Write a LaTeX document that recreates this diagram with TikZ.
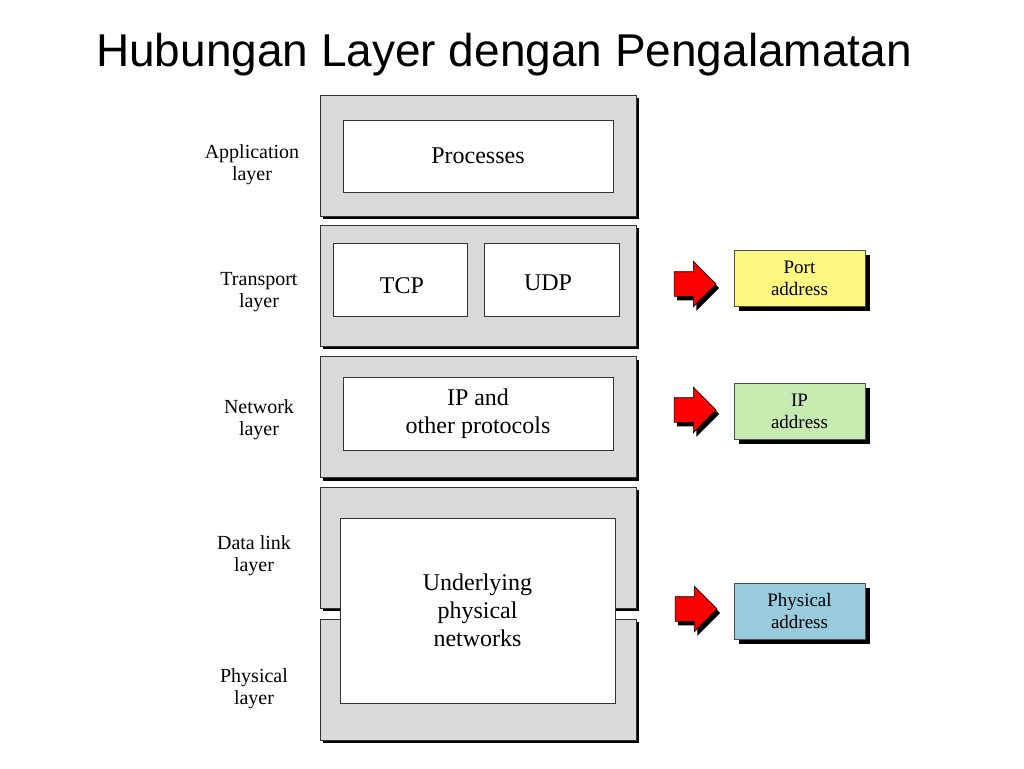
\documentclass[tikz,border=0pt]{standalone}
\usepackage{fontspec}
\setmainfont{Liberation Serif}
\newfontfamily\titlefont{Liberation Sans}
\usetikzlibrary{shapes.arrows,shadows}

\begin{document}
\begin{tikzpicture}[x=1pt, y=-1pt,
    font=\fontsize{20}{22}\selectfont,
    layer/.style={
        rectangle,
        draw=black!80,
        fill=gray!30,
        line width=0.8pt,
        minimum width=316pt,
        minimum height=121pt,
        drop shadow={shadow xshift=3pt, shadow yshift=-3pt, fill=black, opacity=1}
    },
    proto/.style={
        rectangle,
        draw=black!80,
        fill=white,
        line width=0.8pt,
        align=center,
        font=\fontsize{24}{28}\selectfont
    },
    addr/.style={
        rectangle,
        draw=black!70,
        line width=0.6pt,
        align=center,
        minimum width=131pt,
        minimum height=56pt,
        font=\fontsize{19}{22}\selectfont,
        drop shadow={shadow xshift=5pt, shadow yshift=-5pt, fill=black, opacity=1}
    },
    lname/.style={align=center},
    bigarrow/.style={
        single arrow,
        draw=black,
        fill=red,
        line width=0.6pt,
        minimum height=42pt,
        minimum width=45pt,
        single arrow head extend=10.5pt,
        inner xsep=0pt,
        inner ysep=12pt,
        drop shadow={shadow xshift=3pt, shadow yshift=-4pt, fill=black, opacity=1}
    }
]
\useasboundingbox (0,0) rectangle (1024,768);

% ===== Title =====
\node[font=\titlefont\fontsize{46}{50}\selectfont] (title) at (504,55) {Hubungan Layer dengan Pengalamatan};

% ===== Layer stack =====
\node[layer] (app) at (478,155.5) {};
\node[layer] (trans) at (478,285.5) {};
\node[layer] (net) at (478,417) {};
\node[layer] (dlink) at (478,547.5) {};
\node[layer] (phys) at (478,679.5) {};

\node[proto, minimum width=270pt, minimum height=72pt] (proc) at (478,156) {Processes};
\node[proto, minimum width=134pt, minimum height=73pt] (tcp) at (400,279.5) {};
\node[font=\fontsize{24}{28}\selectfont] (tcptext) at (402,286) {TCP};
\node[proto, minimum width=135pt, minimum height=73pt] (udp) at (551.5,279.5) {};
\node[font=\fontsize{24}{28}\selectfont] (udptext) at (548,283) {UDP};
\node[proto, minimum width=270pt, minimum height=73pt] (ip) at (478,413.5) {IP and\\other protocols};
\node[proto, minimum width=275pt, minimum height=185pt] (under) at (477.5,610.5) {Underlying\\physical\\networks};

% Layer names
\node[lname] at (252,165) {Application\\layer};
\node[lname] at (259,292) {Transport\\layer};
\node[lname] at (259,420) {Network\\layer};
\node[lname] at (254,556) {Data link\\layer};
\node[lname] at (254,689) {Physical\\layer};

% ===== Addresses =====
\node[addr, fill=yellow!50] (port) at (799.5,278) {Port\\address};
\node[addr, fill=green!50!olive!30] (ipa) at (799.5,411) {IP\\address};
\node[addr, fill=cyan!45!teal!45] (phya) at (799.5,611) {Physical\\address};

\node[bigarrow] (a1) at (689,284) {};
\node[bigarrow] (a2) at (689,410) {};
\node[bigarrow] (a3) at (690,609) {};

\end{tikzpicture}
\end{document}
